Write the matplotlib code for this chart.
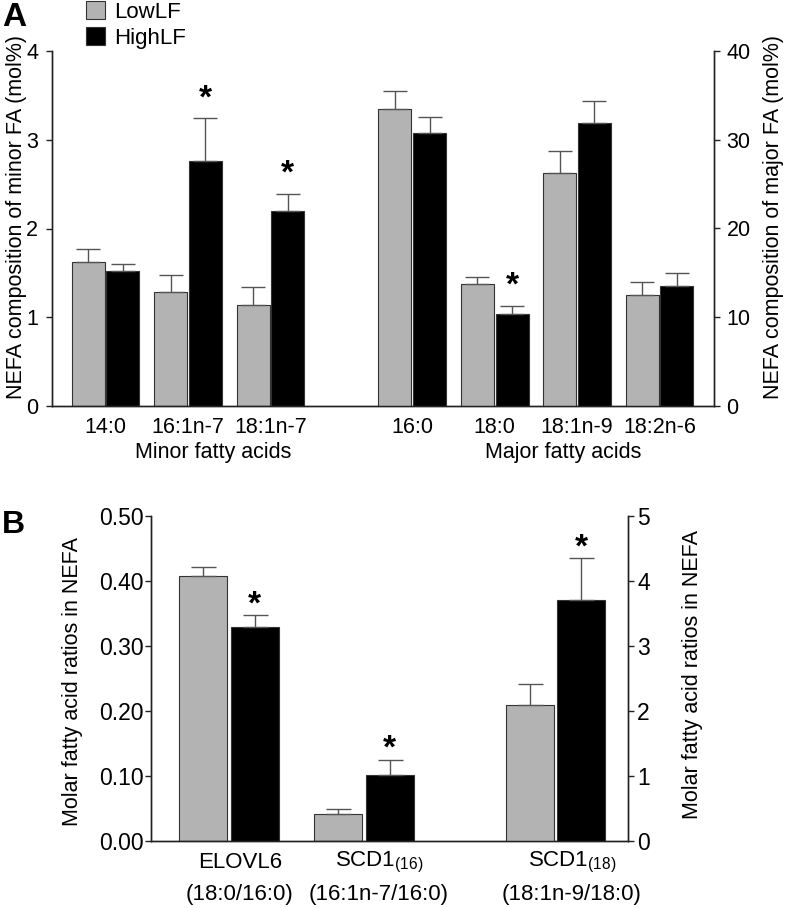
import numpy as np
import matplotlib
matplotlib.use('Agg')
from matplotlib import pyplot as plt
from matplotlib.patches import Patch

plt.rcParams['font.family'] = ['Liberation Sans', 'DejaVu Sans']
plt.rcParams['mathtext.fontset'] = 'custom'
plt.rcParams['mathtext.rm'] = 'Liberation Sans'

# panel A data (mol%)
minor_labels = ['14:0', '16:1n-7', '18:1n-7']
minor_low = [1.62, 1.29, 1.14]
minor_low_err = [0.15, 0.19, 0.20]
minor_high = [1.52, 2.76, 2.20]
minor_high_err = [0.08, 0.48, 0.19]
minor_sig = [False, True, True]

major_labels = ['16:0', '18:0', '18:1n-9', '18:2n-6']
major_low = [33.5, 13.7, 26.3, 12.5]
major_low_err = [2.0, 0.8, 2.4, 1.5]
major_high = [30.8, 10.4, 31.9, 13.5]
major_high_err = [1.8, 0.9, 2.5, 1.5]
major_sig = [False, True, False, False]

# panel B data (ratios)
ratio_names = ['ELOVL6', r'SCD1$_{\mathregular{(16)}}$', r'SCD1$_{\mathregular{(18)}}$']
ratio_sub = ['(18:0/16:0)', '(16:1n-7/16:0)', '(18:1n-9/18:0)']
ratio_low = [0.408, 0.042, 2.10]
ratio_low_err = [0.013, 0.008, 0.31]
ratio_high = [0.330, 0.102, 3.71]
ratio_high_err = [0.017, 0.023, 0.64]
ratio_sig = [True, True, True]

grey = '#b3b3b3'
edge = '#333333'
ecol = '#555555'
spine = '#222222'

fig = plt.figure(figsize=(7.86, 9.08), dpi=100)


def pair(ax, x, low, low_err, high, high_err, sig, off, w, cap, star_off):
    x = np.asarray(x, dtype=float)
    ax.bar(x - off, low, w, color=grey, edgecolor=edge, linewidth=0.8)
    ax.bar(x + off, high, w, color='black', edgecolor=edge, linewidth=0.8)
    z = np.zeros(len(x))
    ax.errorbar(x - off, low, yerr=[z, low_err], fmt='none', ecolor=ecol,
                elinewidth=1, capsize=cap, capthick=1)
    ax.errorbar(x + off, high, yerr=[z, high_err], fmt='none', ecolor=ecol,
                elinewidth=1, capsize=cap, capthick=1)
    for xi, h, e, s in zip(x, high, high_err, sig):
        if s:
            ax.annotate('*', (xi + off, h + e), xytext=(0, star_off),
                        textcoords='offset points', ha='center', va='baseline',
                        fontsize=24, fontweight='bold')


def style(ax, ax2):
    for a in (ax, ax2):
        a.spines['top'].set_visible(False)
        for s in ('left', 'right', 'bottom'):
            a.spines[s].set_color(spine)
            a.spines[s].set_linewidth(1.0)
    ax.tick_params(axis='x', length=0)


# ---------- panel A ----------
axA = fig.add_axes([52/786, 1-406/908, (714-52)/786, (406-51)/908])
axA2 = axA.twinx()
minor_x = [0, 1, 2]
major_x = [3.72, 4.72, 5.72, 6.72]
pair(axA, minor_x, minor_low, minor_low_err, minor_high, minor_high_err, minor_sig, 0.21, 0.40, 8.5, 8)
pair(axA2, major_x, major_low, major_low_err, major_high, major_high_err, major_sig, 0.21, 0.40, 8.5, 8)
axA.set_xlim(-0.65, 7.38)
axA.set_ylim(0, 4)
axA2.set_ylim(0, 40)
axA.set_yticks([0, 1, 2, 3, 4])
axA2.set_yticks([0, 10, 20, 30, 40])
axA.set_xticks(minor_x + major_x)
axA.set_xticklabels(minor_labels + major_labels, fontsize=15.5)
style(axA, axA2)
axA.tick_params(axis='x', pad=8)
axA.tick_params(axis='y', labelsize=15.5, length=4, width=1, color=spine, pad=6)
axA2.tick_params(axis='y', labelsize=15.5, length=4, width=1, color=spine, pad=5)
axA.set_ylabel('NEFA composition of minor FA (mol%)', fontsize=15.5)
axA.yaxis.set_label_coords(-0.038, 0.532)
axA2.set_ylabel('NEFA composition of major FA (mol%)', fontsize=15.5)
axA2.yaxis.set_label_coords(1.074, 0.532)
axA.text(1.3, -0.13, 'Minor fatty acids', transform=axA.get_xaxis_transform(),
         ha='center', va='center', fontsize=15.5)
axA.text(5.55, -0.13, 'Major fatty acids', transform=axA.get_xaxis_transform(),
         ha='center', va='center', fontsize=15.5)

handles = [Patch(facecolor=grey, edgecolor=edge, linewidth=0.8, label='LowLF'),
           Patch(facecolor='black', edgecolor=edge, linewidth=0.8, label='HighLF')]
fig.legend(handles=handles, loc='upper left', bbox_to_anchor=(86/786, 1-1/908),
           frameon=False, fontsize=16, handlelength=0.85, handleheight=0.85,
           handletextpad=0.4, labelspacing=0.2, borderpad=0, borderaxespad=0)

fig.text(2/786, 1-26/908, 'A', fontsize=24, fontweight='bold', ha='left', va='baseline')

# ---------- panel B ----------
axB = fig.add_axes([151/786, 1-841/908, (628.3-151)/786, (841-516)/908])
axB2 = axB.twinx()
pair(axB, [0, 1], ratio_low[:2], ratio_low_err[:2], ratio_high[:2], ratio_high_err[:2],
     ratio_sig[:2], 0.19, 0.355, 9, 1.5)
pair(axB2, [2.42], ratio_low[2:], ratio_low_err[2:], ratio_high[2:], ratio_high_err[2:],
     ratio_sig[2:], 0.19, 0.355, 9, 1.5)
axB.set_xlim(-0.578, 2.958)
axB.set_ylim(0, 0.5)
axB2.set_ylim(0, 5)
axB.set_yticks([0, 0.1, 0.2, 0.3, 0.4, 0.5])
axB.set_yticklabels(['%.2f' % v for v in [0, 0.1, 0.2, 0.3, 0.4, 0.5]])
axB2.set_yticks([0, 1, 2, 3, 4, 5])
axB.set_xticks([])
style(axB, axB2)
axB.tick_params(axis='y', labelsize=16.5, length=4, width=1, color=spine, pad=1)
axB2.tick_params(axis='y', labelsize=16.5, length=4, width=1, color=spine, pad=2.5)
axB.set_ylabel('Molar fatty acid ratios in NEFA', fontsize=15.5)
axB.yaxis.set_label_coords(-0.1435, 0.49)
axB2.set_ylabel('Molar fatty acid ratios in NEFA', fontsize=15.5)
axB2.yaxis.set_label_coords(1.112, 0.512)
for xp, name, sub in zip([0.08, 1.11, 2.54], ratio_names, ratio_sub):
    axB.text(xp, -0.065, name, transform=axB.get_xaxis_transform(),
             ha='center', va='center', fontsize=16)
    axB.text(xp, -0.166, sub, transform=axB.get_xaxis_transform(),
             ha='center', va='center', fontsize=16)

fig.text(2/786, 1-533/908, 'B', fontsize=23, fontweight='bold', ha='left', va='baseline')

fig.savefig('out.png', dpi=100)
